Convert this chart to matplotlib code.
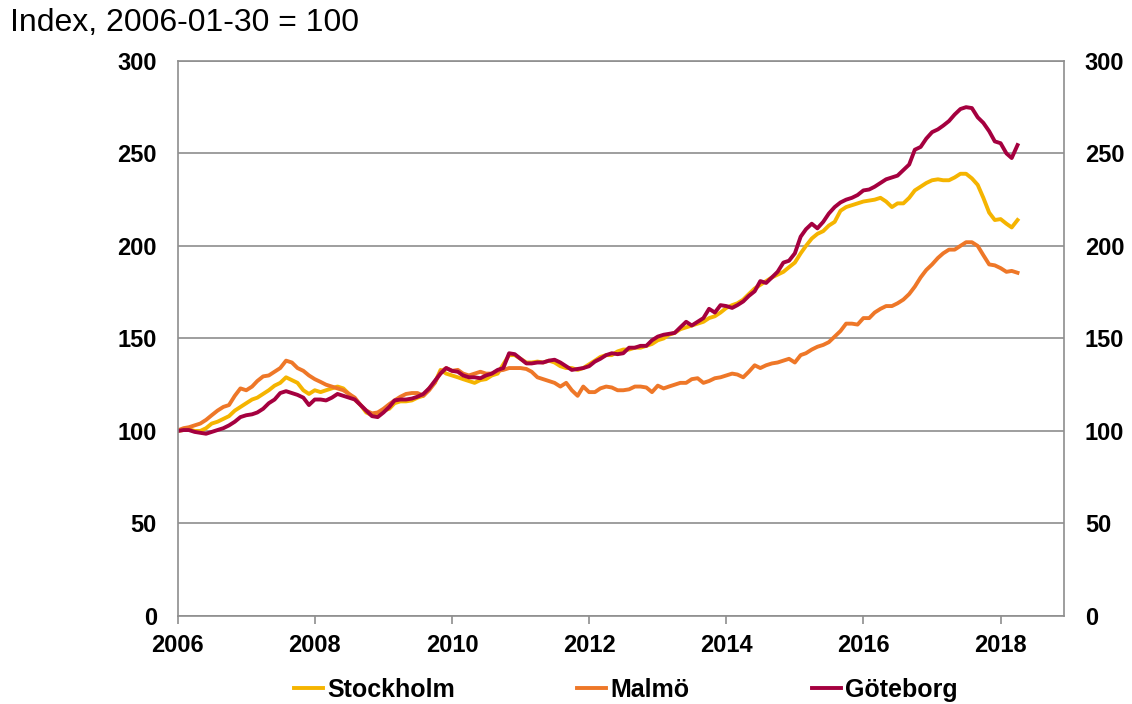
import matplotlib
matplotlib.use("Agg")
import matplotlib.pyplot as plt
import matplotlib.dates as mdates
import pandas as pd

plt.rcParams['font.family'] = ['Liberation Sans', 'DejaVu Sans']

# monthly index, Jan 2006 - Apr 2018
months = pd.date_range('2006-01-01', periods=148, freq='MS')

stockholm = [
    100, 100.5, 101, 100, 100, 101.5, 104, 105, 106.5, 108, 111, 113,
    115, 117, 118, 120, 122, 124.5, 126, 129, 127.5, 126, 122, 120,
    122, 121, 122, 123, 124, 123, 120, 117, 114, 110, 108.5, 109,
    111, 112, 115, 116, 116, 116.5, 118, 119, 123, 126, 133, 131,
    130, 129, 128, 127, 126, 127.5, 128, 130, 131, 136, 141, 141,
    139, 137, 137, 137.5, 137, 138, 137, 135, 134, 134, 133, 134,
    136, 138, 140, 141, 141, 143, 144, 144, 145, 145, 146, 147,
    149, 150, 152, 153, 155, 156, 157, 158, 159, 161, 162, 164,
    166.5, 168, 169, 171, 174, 177, 179, 181, 183, 184.5, 186, 188.5,
    191, 196, 200, 204, 206.5, 208, 211, 213, 219, 221, 222, 223,
    224, 224.5, 225, 226, 224, 221, 223, 223, 226, 230, 232, 234,
    235.5, 236, 235.5, 235.5, 237, 239, 239, 236.5, 233, 226, 218, 214,
    214.5, 212, 210, 214,
]

malmo = [
    100.3, 101.5, 102, 103, 104, 106, 108.5, 111, 113, 114, 119, 123,
    122, 124, 127, 129.5, 130, 132, 134, 138, 137, 134, 132.5, 130,
    128, 126.5, 125, 124, 123, 122, 120, 118, 114, 111, 109.5, 110,
    112, 114.5, 116.5, 118.5, 120, 120.5, 120.5, 119, 122, 126, 132, 134,
    132.5, 133, 131, 130, 131, 132, 131, 131, 132.5, 133, 134, 134,
    134, 133.5, 132, 129, 128, 127, 126, 124, 126, 122, 119, 124,
    121, 121, 123, 124, 123.5, 122, 122, 122.5, 124, 124, 123.5, 121,
    124.5, 123, 124, 125, 126, 126, 128, 128.5, 126, 127, 128.5, 129,
    130, 131, 130.5, 129, 132, 135.5, 134, 135.5, 136.5, 137, 138, 139,
    137, 141, 142, 144, 145.5, 146.5, 148, 151, 154, 158, 158, 157.5,
    161, 161, 164, 166, 167.5, 167.5, 169, 171, 174, 178, 183, 187,
    190, 193.5, 196, 198, 198, 200, 202, 202, 200, 195, 190, 189.5,
    188, 186, 186.5, 185.5,
]

goteborg = [
    100, 100.5, 100.5, 99.5, 99, 98.5, 99.5, 100.5, 101.5, 103, 105, 107.5,
    108.5, 109, 110, 112, 115, 117, 120.5, 121.5, 120.5, 119.5, 118, 114,
    117, 117, 116.5, 118, 120, 119, 118, 117, 114, 111, 108, 107.5,
    110, 113, 116.5, 117, 117, 117.5, 118.5, 120, 123, 127, 131, 134,
    132.5, 132, 130, 129, 129, 128.5, 130, 131, 133, 134, 142, 141.5,
    139, 136.5, 136.5, 137, 137, 138, 138.5, 137, 135, 133, 133.5, 134,
    135, 137.5, 139, 141, 142, 141.5, 142, 145, 145, 146, 146, 149,
    151, 152, 152.5, 153, 156, 159, 157, 159, 161, 166, 164, 168,
    167.5, 166.5, 168, 170, 173, 175.5, 181, 180, 183, 186, 191, 192,
    196, 205, 209, 212, 209.5, 213, 217.5, 221, 223.5, 225, 226, 227.5,
    230, 230.5, 232, 234, 236, 237, 238, 241, 244, 252, 253.5, 258,
    261.5, 263, 265, 267.5, 271, 274, 275, 274.5, 269.5, 266.5, 262, 256.5,
    255.5, 250, 247.5, 254.5,
]

names = ['Stockholm', 'Malmö', 'Göteborg']
colors = ['#F5B400', '#EE7728', '#A5003F']
y_ticks = [0, 50, 100, 150, 200, 250, 300]
x_years = [2006, 2008, 2010, 2012, 2014, 2016, 2018]

fig = plt.figure(figsize=(11.32, 7.04), dpi=100)
ax = fig.add_axes([0.157, 0.125, 0.783, 0.7885])

for series, name, c in zip([stockholm, malmo, goteborg], names, colors):
    ax.plot(months, series, color=c, lw=2.8, label=name, solid_joinstyle='round')

ax.set_ylim(0, 300)
ax.set_xlim(pd.Timestamp('2006-01-01'), pd.Timestamp('2018-12-05'))
ax.set_yticks(y_ticks)
ax.set_xticks([pd.Timestamp(f'{y}-01-01') for y in x_years])
ax.xaxis.set_major_formatter(mdates.DateFormatter('%Y'))

ax.grid(axis='y', color='#8E8E8E', lw=1.2)
ax.set_axisbelow(True)
for s in ax.spines.values():
    s.set_color('#8E8E8E')
    s.set_linewidth(1.2)

ax.tick_params(axis='y', length=0, pad=15, labelsize=17, labelright=True)
ax.tick_params(axis='x', length=6, color='#8E8E8E', width=1.2, pad=7, labelsize=17)
for lbl in ax.get_xticklabels() + ax.get_yticklabels():
    lbl.set_fontweight('bold')
for t in ax.yaxis.get_major_ticks():
    t.label2.set_fontweight('bold')

fig.text(0.009, 0.967, 'Index, 2006-01-30 = 100', fontsize=23, va='center', ha='left')

fig.legend(loc='center', bbox_to_anchor=(0.553, 0.020), ncol=3, frameon=False,
           prop={'weight': 'bold', 'size': 18}, handlelength=1.15,
           handletextpad=0.18, columnspacing=4.9)

fig.savefig('out.png', dpi=100)
